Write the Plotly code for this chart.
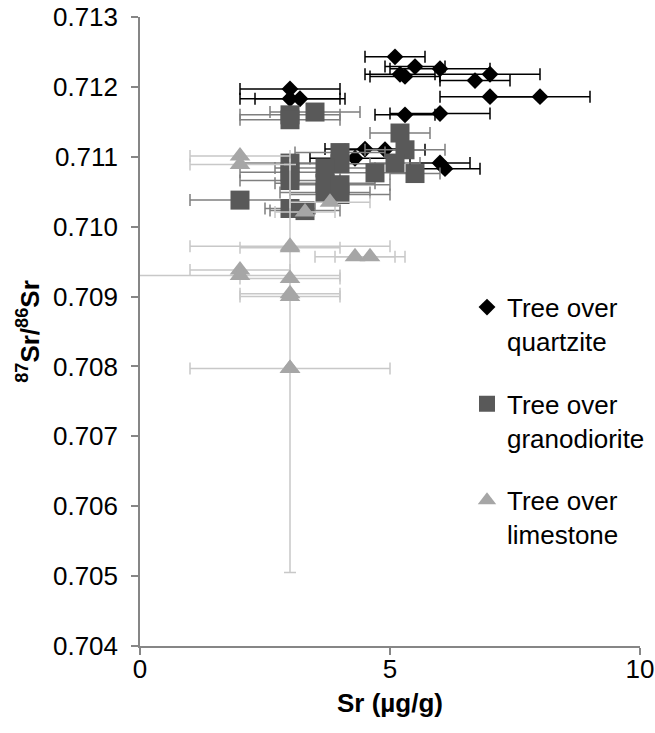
import plotly.graph_objects as go

# Tree over quartzite: Sr concentration, 87Sr/86Sr ratio, Sr uncertainty
qtz_sr = [3.0, 3.0, 3.2, 5.1, 5.5, 6.0, 5.2, 5.3, 7.0, 6.7, 7.0, 8.0, 5.3, 6.0, 4.5, 4.9, 4.3, 6.0, 6.1]
qtz_ratio = [0.71197, 0.71183, 0.71183, 0.71243, 0.71229, 0.71226, 0.71218, 0.71215, 0.71218,
             0.71209, 0.71186, 0.71186, 0.71160, 0.71162, 0.71111, 0.71110, 0.71098, 0.71091, 0.71083]
qtz_err = [1.0, 1.0, 0.9, 0.6, 0.6, 1.0, 0.7, 0.7, 1.0, 0.7, 1.0, 1.0, 0.6, 1.0, 0.8, 0.8, 0.9, 0.6, 0.7]

# Tree over granodiorite
gra_sr = [3.0, 3.0, 3.5, 5.2, 5.3, 5.1, 5.5, 4.7, 4.0, 4.0, 3.7, 3.7, 3.7, 4.0, 4.0,
          3.0, 3.0, 3.0, 3.0, 3.3, 2.0]
gra_ratio = [0.71160, 0.71153, 0.71164, 0.71134, 0.71110, 0.71091, 0.71076, 0.71077, 0.71106,
             0.71090, 0.71084, 0.71062, 0.71049, 0.71060, 0.71046, 0.71091, 0.71078, 0.71066,
             0.71026, 0.71023, 0.71038]
gra_err = [1.0, 1.0, 0.9, 0.6, 0.8, 0.5, 0.5, 0.9, 0.9, 1.0, 1.0, 1.0, 0.9, 1.0, 1.0,
           1.0, 1.0, 1.0, 0.5, 0.7, 1.0]

# Tree over limestone (asymmetric Sr errors, one sample with a ratio uncertainty)
lim_sr = [2.0, 2.0, 3.8, 3.3, 3.0, 3.0, 4.3, 4.6, 2.0, 2.0, 3.0, 3.0, 3.0, 3.0]
lim_ratio = [0.71101, 0.71089, 0.71035, 0.71021, 0.70972, 0.70970, 0.70957, 0.70957,
             0.70938, 0.70930, 0.70926, 0.70904, 0.70900, 0.70797]
lim_err_plus = [1.0, 1.0, 0.8, 0.6, 2.0, 1.0, 0.8, 0.7, 1.0, 2.0, 1.0, 1.0, 1.0, 2.0]
lim_err_minus = [1.0, 1.0, 0.8, 0.6, 2.0, 1.0, 0.8, 0.7, 1.0, 5.0, 1.0, 1.0, 1.0, 2.0]
lim_ratio_err = [0, 0, 0, 0, 0, 0, 0, 0, 0, 0, 0, 0, 0, 0.00292]

x_ticks = [0, 5, 10]
y_ticks = [0.704, 0.705, 0.706, 0.707, 0.708, 0.709, 0.710, 0.711, 0.712, 0.713]

BLACK = "#000000"
DARK = "#595959"
DARK_ERR = "#7f7f7f"
LIGHT = "#a6a6a6"
LIGHT_ERR = "#c8c8c8"
FONT = "Liberation Sans, Arial, sans-serif"
FS = 26

fig = go.Figure()

fig.add_trace(go.Scatter(
    x=qtz_sr, y=qtz_ratio, mode="markers", name="Tree over<br>quartzite",
    legendgroup="q",
    marker=dict(symbol="diamond", size=13, color=BLACK),
    error_x=dict(type="data", array=qtz_err, color=BLACK, thickness=1.5, width=6),
))

fig.add_trace(go.Scatter(
    x=gra_sr, y=gra_ratio, mode="markers", name="Tree over<br>granodiorite",
    legendgroup="g",
    marker=dict(symbol="square", size=19, color=DARK),
    error_x=dict(type="data", array=gra_err, color=DARK_ERR, thickness=1.5, width=6),
))

# sample(s) carrying a ratio uncertainty get their own vertical error bar
ye_idx = [i for i, e in enumerate(lim_ratio_err) if e > 0]
fig.add_trace(go.Scatter(
    x=[lim_sr[i] for i in ye_idx], y=[lim_ratio[i] for i in ye_idx], mode="markers",
    showlegend=False, legendgroup="l", hoverinfo="skip",
    marker=dict(symbol="triangle-up", size=18, color=LIGHT),
    error_y=dict(type="data", array=[lim_ratio_err[i] for i in ye_idx],
                 color=LIGHT_ERR, thickness=1.5, width=6),
))

fig.add_trace(go.Scatter(
    x=lim_sr, y=lim_ratio, mode="markers", name="Tree over<br>limestone",
    legendgroup="l",
    marker=dict(symbol="triangle-up", size=18, color=LIGHT),
    error_x=dict(type="data", symmetric=False, array=lim_err_plus, arrayminus=lim_err_minus,
                 color=LIGHT_ERR, thickness=1.5, width=6),
))

axis_common = dict(
    showgrid=False, zeroline=False, showline=True, linecolor="#868686", linewidth=1.5,
    ticks="outside", ticklen=7, tickcolor="#868686", tickwidth=1.5, automargin=False,
    tickfont=dict(family=FONT, size=FS, color="#000000"),
)

fig.update_xaxes(
    range=[0, 10], tickvals=x_ticks, ticktext=[str(v) for v in x_ticks],
    ticklabelstandoff=-8,
    **axis_common,
)
fig.update_yaxes(
    range=[0.704, 0.713], tickvals=y_ticks, ticktext=[f"{v:.3f}" for v in y_ticks],
    ticklabelstandoff=8,
    title=dict(text="<b><sup>87</sup>Sr/<sup>86</sup>Sr</b>",
               font=dict(family=FONT, size=FS, color="#000000"), standoff=6),
    **axis_common,
)

# x-axis title placed just under the tick labels
fig.add_annotation(
    text="<b>Sr (µg/g)</b>", xref="paper", yref="paper", x=0.5, y=-0.0906,
    xanchor="center", yanchor="middle", showarrow=False,
    font=dict(family=FONT, size=FS, color="#000000"),
)

fig.update_layout(
    width=655, height=733,
    margin=dict(l=140, r=15, t=17, b=87, autoexpand=False),
    paper_bgcolor="white", plot_bgcolor="white",
    legend=dict(
        x=0.654, y=0.576, xanchor="left", yanchor="top",
        font=dict(family=FONT, size=FS, color="#000000"),
        valign="top", traceorder="grouped", tracegroupgap=26,
        bgcolor="rgba(0,0,0,0)", itemsizing="trace",
    ),
    showlegend=True,
)

fig.write_html("out.html")
